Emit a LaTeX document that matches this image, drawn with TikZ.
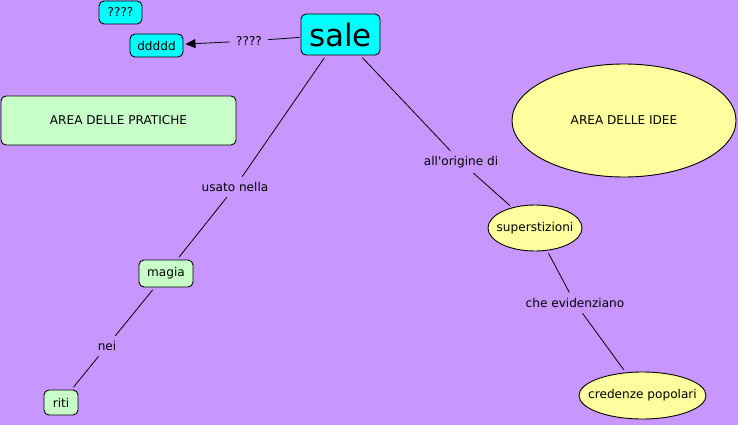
\documentclass[tikz,border=0pt]{standalone}
\usepackage{fontspec}
\setmainfont{DejaVu Sans}
\newfontfamily\vfont{DejaVu Sans}
\usetikzlibrary{shapes.geometric,arrows.meta}
\definecolor{bg}{RGB}{200,150,255}
\definecolor{cy}{RGB}{0,255,255}
\definecolor{lg}{RGB}{200,255,200}
\definecolor{ly}{RGB}{255,255,160}
\newcommand{\zw}[1]{\makebox[0pt][c]{#1}}
\tikzset{
  box/.style={draw=black, rounded corners=5pt, line width=0.9pt, inner sep=0pt, font=\vfont\fontsize{12.1}{13}\selectfont},
  oval/.style={draw=black, ellipse, line width=0.9pt, fill=ly, inner sep=0pt, font=\vfont\fontsize{12.1}{13}\selectfont},
  lab/.style={font=\vfont\fontsize{12.1}{13}\selectfont, inner sep=3pt},
  conn/.style={line width=0.8pt, draw=black, shorten <=3pt, shorten >=3pt},
}
\begin{document}
\begin{tikzpicture}[x=1pt,y=-1pt]
\fill[bg] (0,0) rectangle (738,425);
\useasboundingbox (0,0) rectangle (738,425);
\node[box, fill=cy, minimum width=43pt, minimum height=23pt] (q) at (120.5,12.5) {????};
\node[box, fill=cy, minimum width=53pt, minimum height=23pt] (d) at (156.5,45.5) {ddddd};
\node[box, fill=cy, minimum width=79pt, minimum height=41pt, font=\vfont\fontsize{31}{34}\selectfont] (sale) at (340.5,34.5) {sale};
\node[box, fill=lg, minimum width=235pt, minimum height=49pt] (prat) at (118.5,120.5) {AREA DELLE PRATICHE};
\node[oval, minimum width=224pt, minimum height=113pt] (idee) at (624,120.5) {\zw{AREA DELLE IDEE}};
\node[oval, minimum width=94pt, minimum height=46pt] (sup) at (535,228) {\zw{superstizioni}};
\node[oval, minimum width=127pt, minimum height=47pt] (cred) at (642.5,395.5) {\zw{credenze popolari}};
\node[box, fill=lg, minimum width=54pt, minimum height=27pt] (magia) at (166,273.5) {magia};
\node[box, fill=lg, minimum width=34pt, minimum height=25pt] (riti) at (61,402.5) {riti};

\node[lab] (l0) at (249,41) {????};
\node[lab] (l1) at (235,187) {usato nella};
\node[lab] (l2) at (461,162) {all'origine di};
\node[lab] (l3) at (575,303) {che evidenziano};
\node[lab] (l4) at (107,346) {nei};

\draw[conn, shorten <=1pt] (sale) -- (l0);
\draw[conn, shorten >=2pt, -{Triangle[length=10pt,width=9pt]}] (l0) -- (d);
\draw[conn] (sale) -- (l1);
\draw[conn] (l1) -- (magia);
\draw[conn] (sale) -- (l2);
\draw[conn] (l2) -- (sup);
\draw[conn] (sup) -- (l3);
\draw[conn] (l3) -- (cred);
\draw[conn] (magia) -- (l4);
\draw[conn] (l4) -- (riti);
\end{tikzpicture}
\end{document}
